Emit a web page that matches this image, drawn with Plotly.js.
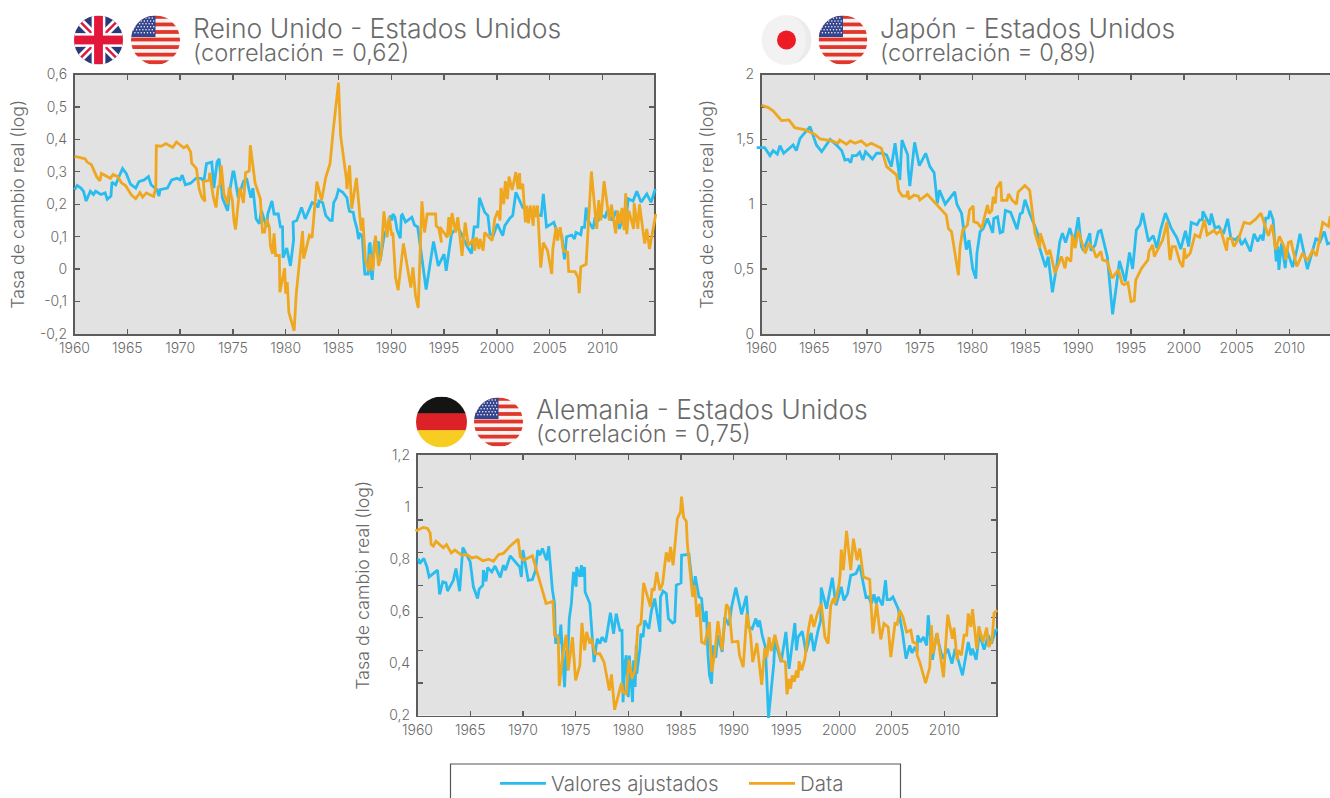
<!DOCTYPE html>
<html><head><meta charset="utf-8">
<script src="https://cdn.plot.ly/plotly-3.0.1.min.js"></script>
<style>html,body{margin:0;padding:0;background:#fff;overflow:hidden}#chart{width:1330px;height:798px}</style>
</head><body><div id="chart"></div>
<script>
// [year, value]
const ukFitted=[[1960,.245],[1960.25,.258],[1960.6,.25],[1960.85,.24],[1961.1,.21],[1961.5,.24],[1961.8,.23],[1962,.24],[1962.5,.23],[1962.9,.235],[1963.1,.215],[1963.45,.225],[1963.55,.268],[1963.9,.26],[1964.15,.28],[1964.55,.31],[1964.9,.295],[1965.3,.262],[1965.8,.25],[1966.1,.27],[1966.6,.275],[1967,.285],[1967.25,.26],[1967.8,.245],[1968,.225],[1968.1,.245],[1968.8,.25],[1969.2,.275],[1969.7,.28],[1970,.275],[1970.2,.29],[1970.5,.26],[1971,.265],[1971.5,.28],[1972,.28],[1972.25,.27],[1972.5,.325],[1973,.33],[1973.2,.25],[1973.5,.33],[1973.7,.34],[1974,.22],[1974.5,.18],[1974.7,.24],[1975,.3],[1975.1,.3],[1975.5,.22],[1976,.27],[1976.3,.28],[1976.7,.22],[1976.9,.25],[1977.2,.155],[1977.5,.14],[1977.7,.18],[1978.2,.13],[1978.3,.17],[1978.7,.21],[1978.9,.17],[1979.3,.17],[1979.5,.13],[1979.7,.13],[1979.75,.035],[1980.1,.065],[1980.45,.01],[1980.75,.09],[1980.7,.145],[1981.05,.15],[1981.5,.19],[1981.85,.155],[1982.5,.205],[1982.9,.2],[1983.07,.19],[1983.15,.21],[1983.5,.205],[1983.8,.165],[1984.2,.15],[1984.4,.15],[1984.55,.205],[1984.8,.22],[1985,.245],[1985.4,.237],[1985.8,.22],[1985.95,.19],[1986.05,.178],[1986.4,.175],[1986.5,.155],[1986.75,.125],[1986.9,.093],[1987.05,.108],[1987.25,.103],[1987.4,.026],[1987.5,-.015],[1987.8,-.015],[1987.9,.072],[1988,.082],[1988.1,-.015],[1988.2,-.033],[1988.35,.067],[1988.45,.085],[1988.8,.082],[1988.95,.026],[1989.35,.108],[1989.6,.124],[1989.9,.165],[1990.05,.15],[1990.15,.17],[1990.35,.16],[1990.55,.12],[1990.85,.095],[1990.95,.165],[1991.05,.168],[1991.35,.145],[1991.95,.16],[1992.2,.136],[1992.5,.13],[1993.3,-.063],[1994,.085],[1994.45,.01],[1995,.046],[1995.2,-.005],[1995.7,.108],[1995.85,.115],[1996.3,.129],[1996.65,.108],[1997.2,.069],[1997.6,.048],[1997.75,.1],[1997.85,.13],[1998.2,.13],[1998.35,.22],[1998.85,.175],[1999.15,.165],[1999.35,.108],[1999.65,.103],[2000.05,.139],[2000.55,.103],[2000.75,.134],[2001.25,.158],[2001.5,.165],[2001.8,.237],[2002.45,.19],[2002.8,.185],[2003.45,.17],[2004.2,.165],[2004.4,.232],[2004.7,.13],[2005.4,.144],[2005.65,.119],[2006.15,.103],[2006.4,.03],[2006.6,.1],[2007.1,.105],[2007.35,.093],[2007.5,.113],[2007.95,.106],[2008.05,.129],[2008.3,.129],[2008.45,.19],[2008.65,.15],[2009.1,.124],[2009.3,.16],[2009.6,.15],[2009.95,.165],[2010.25,.16],[2010.45,.18],[2010.9,.15],[2011.3,.18],[2011.6,.124],[2011.85,.15],[2012.15,.139],[2012.45,.217],[2012.9,.21],[2013.25,.24],[2013.65,.206],[2014.2,.232],[2014.6,.206],[2015,.247]];
const ukData=[[1960,.348],[1961,.34],[1961.2,.33],[1961.6,.322],[1962.1,.285],[1962.4,.272],[1962.55,.295],[1963,.287],[1963.4,.28],[1963.65,.292],[1964.1,.285],[1964.45,.266],[1964.85,.257],[1965.4,.228],[1965.8,.217],[1966.2,.236],[1966.45,.222],[1966.8,.235],[1967.15,.23],[1967.5,.224],[1967.7,.253],[1967.75,.38],[1968.25,.379],[1968.65,.387],[1969.3,.375],[1969.65,.392],[1970.35,.374],[1970.65,.381],[1971,.361],[1971.1,.327],[1971.55,.31],[1971.8,.248],[1972.05,.222],[1972.35,.209],[1972.2,.27],[1972.75,.274],[1972.8,.297],[1973.15,.222],[1973.4,.19],[1973.6,.253],[1973.75,.258],[1973.9,.32],[1974.15,.233],[1974.5,.2],[1974.65,.253],[1974.95,.212],[1975.1,.15],[1975.25,.122],[1975.65,.251],[1976,.204],[1976.2,.297],[1976.55,.303],[1976.65,.382],[1976.9,.31],[1977.1,.266],[1977.6,.217],[1977.8,.114],[1978,.114],[1978.2,.155],[1978.45,.13],[1978.55,.073],[1978.75,.047],[1978.9,.11],[1979.05,.042],[1979.4,.042],[1979.45,-.071],[1979.9,.003],[1980,-.076],[1980.15,-.04],[1980.3,-.133],[1980.8,-.19],[1981,-.076],[1981.6,.117],[1981.7,.032],[1982.25,.104],[1982.5,.097],[1982.95,.27],[1983.4,.212],[1983.8,.284],[1984.2,.325],[1984.5,.428],[1985,.575],[1985.2,.412],[1985.75,.278],[1985.8,.247],[1986.05,.32],[1986.25,.186],[1986.7,.281],[1987,.165],[1987.15,.119],[1987.3,.158],[1987.55,.026],[1987.9,-.005],[1988,.046],[1988.25,-.005],[1988.5,.103],[1988.8,.01],[1989.05,.046],[1989.3,.178],[1989.6,.098],[1989.8,.16],[1990.05,.103],[1990.15,.113],[1990.4,-.026],[1990.65,-.065],[1991.15,.079],[1991.85,-.057],[1992.05,.005],[1992.3,-.082],[1992.55,-.12],[1992.9,.209],[1993.15,.113],[1993.4,.17],[1994.2,.17],[1994.25,.134],[1994.5,.125],[1994.75,.082],[1994.6,.13],[1995.3,.098],[1995.45,.16],[1995.6,.103],[1995.75,.173],[1996.1,.113],[1996.3,.16],[1996.7,.041],[1997,.144],[1997.3,.072],[1997.75,.093],[1997.9,.057],[1998.05,.098],[1998.3,.062],[1998.4,.093],[1998.7,.057],[1998.85,.113],[1999.55,.088],[1999.8,.155],[2000.1,.18],[2000.3,.15],[2000.4,.25],[2000.65,.2],[2000.8,.271],[2001,.216],[2001.15,.285],[2001.45,.244],[2001.8,.299],[2002,.247],[2002.15,.296],[2002.2,.247],[2002.45,.263],[2002.7,.144],[2002.8,.196],[2003,.141],[2003.15,.196],[2003.45,.134],[2003.5,.196],[2003.7,.16],[2003.85,.196],[2004.15,.005],[2004.4,.082],[2004.8,.057],[2005.2,-.015],[2005.3,.062],[2005.6,.129],[2005.75,.088],[2006,.129],[2006.3,.057],[2006.7,.052],[2006.8,-.007],[2007.4,-.008],[2007.7,-.026],[2007.8,-.074],[2007.95,.007],[2008.45,.015],[2008.95,.301],[2009.45,.124],[2009.65,.213],[2009.85,.15],[2010.15,.271],[2010.65,.15],[2010.85,.199],[2011.25,.11],[2011.45,.18],[2011.65,.139],[2011.85,.189],[2012.05,.12],[2012.2,.234],[2012.3,.108],[2012.5,.18],[2012.95,.124],[2013,.203],[2013.35,.124],[2013.5,.2],[2014,.079],[2014.2,.124],[2014.45,.062],[2015.05,.17]];
const jpFitted=[[1959.55,1.436],[1960.3,1.436],[1960.8,1.375],[1961.1,1.413],[1961.5,1.387],[1961.75,1.452],[1962.1,1.393],[1963,1.457],[1963.3,1.413],[1963.65,1.508],[1964.6,1.598],[1965.2,1.457],[1965.7,1.405],[1966.5,1.5],[1967.1,1.457],[1967.6,1.413],[1967.9,1.341],[1968.2,1.346],[1968.45,1.32],[1968.6,1.375],[1969,1.375],[1969.3,1.4],[1969.6,1.341],[1969.85,1.405],[1970.5,1.349],[1970.9,1.393],[1971.5,1.393],[1971.85,1.38],[1972.3,1.29],[1972.65,1.47],[1973.1,1.187],[1973.3,1.495],[1973.85,1.38],[1973.9,1.264],[1974.05,1.14],[1974.5,1.477],[1974.95,1.297],[1975.55,1.393],[1975.95,1.29],[1976.35,1.243],[1976.65,1.006],[1976.85,1.109],[1977.4,1.001],[1978.3,1.096],[1978.5,1.001],[1978.95,.929],[1979.4,.651],[1979.65,.723],[1980,.504],[1980.3,.427],[1980.4,.62],[1980.7,.788],[1981,.813],[1981.4,.89],[1981.9,.78],[1982,.89],[1982.35,.903],[1982.6,.78],[1982.85,.788],[1983.1,.952],[1983.6,.937],[1984.2,.808],[1984.5,.927],[1984.7,.934],[1984.95,1.035],[1985.4,.927],[1985.9,.829],[1986.2,.764],[1986.35,.662],[1986.6,.597],[1986.9,.515],[1987.15,.597],[1987.55,.322],[1987.95,.52],[1988.25,.713],[1988.5,.777],[1988.8,.705],[1989.2,.816],[1989.6,.7],[1990,.901],[1990.3,.674],[1990.5,.643],[1991.1,.777],[1991.2,.643],[1991.6,.687],[1991.9,.79],[1992.15,.798],[1992.75,.597],[1993.25,.152],[1993.6,.366],[1993.9,.564],[1994.45,.404],[1994.85,.628],[1995.15,.502],[1995.5,.803],[1995.85,.842],[1996.1,.932],[1996.65,.713],[1997.1,.759],[1997.45,.662],[1997.8,.803],[1998.25,.932],[1998.8,.816],[1999.35,.739],[1999.7,.654],[2000.15,.795],[2000.45,.674],[2000.7,.86],[2001.25,.842],[2001.5,.88],[2001.75,.88],[2001.8,.945],[2002.45,.842],[2002.6,.927],[2002.95,.816],[2003.3,.829],[2003.75,.772],[2004.15,.888],[2004.45,.739],[2004.9,.726],[2005.2,.752],[2005.45,.687],[2005.8,.726],[2006.3,.636],[2006.65,.772],[2007,.713],[2007.3,.764],[2007.5,.72],[2007.75,.893],[2008,.893],[2008.15,.95],[2008.45,.88],[2008.75,.559],[2008.9,.675],[2009,.494],[2009.25,.7],[2009.6,.507],[2009.75,.649],[2010.3,.515],[2010.7,.649],[2011,.772],[2011.7,.499],[2012.5,.734],[2012.65,.73],[2012.9,.713],[2013.3,.79],[2013.6,.695],[2013.95,.705],[2014.3,.73]];
const jpData=[[1960,1.763],[1960.65,1.745],[1961.1,1.72],[1961.9,1.645],[1962.6,1.65],[1963.15,1.59],[1964.15,1.573],[1965.05,1.539],[1965.55,1.503],[1966.65,1.488],[1967.25,1.47],[1967.4,1.495],[1968.05,1.462],[1968.4,1.488],[1968.85,1.47],[1969.45,1.488],[1969.95,1.452],[1970.4,1.47],[1971.35,1.431],[1971.85,1.29],[1972.8,1.225],[1973,1.104],[1973.35,1.063],[1973.75,1.063],[1973.85,1.104],[1973.95,1.04],[1974.45,1.071],[1974.85,1.063],[1975,1.032],[1975.7,1.076],[1977.5,.916],[1977.7,.813],[1978,.788],[1978.4,.569],[1978.65,.453],[1978.8,.672],[1979.05,.8],[1979.5,.839],[1979.7,.955],[1980.05,.986],[1980.1,.865],[1980.45,.857],[1980.85,.813],[1981.4,.994],[1981.55,.929],[1981.8,.95],[1981.95,1.058],[1982.15,1.006],[1982.25,1.122],[1982.65,1.174],[1982.75,1.03],[1983.25,1.03],[1983.4,1.079],[1983.75,1.03],[1984.15,1.001],[1984.3,1.094],[1984.95,1.145],[1985.4,1.107],[1985.9,.777],[1986.35,.662],[1986.4,.777],[1987.05,.61],[1987.3,.649],[1987.8,.468],[1988.4,.597],[1988.75,.507],[1988.9,.592],[1989.3,.559],[1989.45,.764],[1989.7,.662],[1990,.795],[1990.65,.623],[1991,.7],[1991.45,.649],[1991.7,.589],[1992.15,.636],[1992.3,.571],[1992.75,.559],[1993.2,.43],[1993.8,.494],[1994.15,.391],[1994.35,.38],[1994.7,.396],[1995,.25],[1995.3,.257],[1995.45,.417],[1996,.507],[1996.6,.571],[1996.7,.636],[1997.05,.687],[1997.2,.597],[1998,.726],[1998.4,.862],[1998.65,.597],[1998.7,.571],[1998.9,.674],[1999.2,.674],[1999.6,.559],[1999.9,.515],[2000.05,.662],[2000.15,.584],[2000.6,.623],[2001.05,.764],[2001.5,.746],[2001.95,.88],[2002.2,.764],[2002.85,.798],[2003.1,.772],[2003.5,.798],[2004.05,.643],[2004.15,.734],[2004.5,.739],[2004.75,.674],[2005.2,.739],[2005.7,.86],[2006.25,.849],[2006.8,.885],[2007.3,.932],[2008,.757],[2008.35,.842],[2008.7,.649],[2009.05,.752],[2009.5,.674],[2009.65,.571],[2009.9,.705],[2010.15,.713],[2010.7,.52],[2011.25,.623],[2011.7,.564],[2012.2,.643],[2012.55,.602],[2013.15,.86],[2013.7,.829],[2013.85,.906],[2014.25,.85]];
const deFitted=[[1960.1,.803],[1960.2,.783],[1960.6,.803],[1960.9,.77],[1961.1,.732],[1961.9,.758],[1962.1,.665],[1962.4,.713],[1962.7,.709],[1962.85,.678],[1963.4,.719],[1963.65,.764],[1964,.677],[1964.3,.845],[1965,.79],[1965.3,.694],[1965.7,.649],[1965.85,.685],[1966.2,.7],[1966.25,.758],[1966.5,.715],[1966.65,.768],[1967.05,.751],[1967.35,.774],[1967.85,.73],[1968.15,.777],[1968.35,.758],[1968.8,.813],[1969.7,.77],[1969.85,.732],[1970,.835],[1970.25,.77],[1970.5,.719],[1970.9,.722],[1971.2,.758],[1971.4,.835],[1971.6,.815],[1971.85,.841],[1972.25,.796],[1972.45,.85],[1972.8,.681],[1973,.63],[1973.1,.476],[1973.3,.51],[1973.45,.476],[1973.6,.549],[1973.85,.335],[1973.95,.309],[1974.1,.45],[1974.2,.373],[1974.4,.572],[1974.6,.63],[1974.8,.751],[1975.05,.694],[1975.1,.77],[1975.4,.732],[1975.55,.777],[1975.7,.732],[1975.85,.77],[1975.9,.674],[1976.35,.63],[1976.75,.405],[1977.05,.495],[1977.3,.476],[1977.5,.501],[1977.85,.482],[1978.3,.595],[1978.6,.514],[1978.85,.591],[1979.2,.527],[1979.4,.527],[1979.5,.251],[1979.65,.39],[1979.8,.431],[1980,.27],[1980.1,.43],[1980.4,.251],[1980.5,.412],[1980.65,.31],[1980.75,.469],[1980.8,.36],[1981.1,.456],[1981.2,.514],[1981.4,.501],[1981.55,.565],[1981.95,.533],[1982.2,.604],[1982.5,.649],[1983,.521],[1983.05,.655],[1983.3,.677],[1983.6,.668],[1983.8,.572],[1984.2,.555],[1984.4,.559],[1984.55,.7],[1985,.709],[1985.05,.815],[1985.75,.819],[1986.1,.681],[1986.2,.655],[1986.35,.735],[1986.7,.655],[1986.95,.649],[1987.15,.559],[1987.4,.601],[1987.55,.437],[1987.7,.354],[1987.9,.322],[1988.05,.469],[1988.3,.422],[1988.5,.508],[1988.9,.444],[1989.15,.578],[1989.55,.546],[1989.8,.617],[1990.2,.691],[1990.75,.588],[1991.2,.659],[1991.4,.54],[1991.75,.533],[1992.1,.572],[1992.3,.54],[1992.45,.565],[1992.7,.508],[1993,.463],[1993.3,.191],[1993.8,.399],[1993.9,.488],[1994.5,.405],[1994.95,.521],[1995.25,.379],[1995.8,.555],[1995.95,.45],[1996.1,.501],[1996.5,.523],[1996.85,.444],[1997.35,.517],[1997.6,.447],[1998,.527],[1998.25,.565],[1998.3,.691],[1998.8,.61],[1999.35,.729],[1999.7,.623],[2000.2,.694],[2000.45,.642],[2000.8,.668],[2001.1,.738],[2001.6,.745],[2001.95,.777],[2002.55,.653],[2002.8,.655],[2003.05,.629],[2003.3,.665],[2003.5,.63],[2003.7,.655],[2004.1,.623],[2004.4,.719],[2004.55,.645],[2004.85,.645],[2005.1,.655],[2005.6,.61],[2006,.521],[2006.35,.418],[2006.7,.469],[2006.9,.44],[2007.2,.463],[2007.4,.444],[2007.45,.508],[2007.7,.482],[2008,.501],[2008.3,.469],[2008.45,.585],[2008.85,.414],[2009.25,.514],[2009.8,.418],[2010.3,.456],[2010.7,.399],[2011,.456],[2011.7,.354],[2012.25,.482],[2012.5,.431],[2012.65,.456],[2013,.414],[2013.3,.514],[2013.75,.453],[2014.15,.508],[2014.45,.476],[2014.85,.527],[2015.05,.53]];
const deData=[[1959.8,.908],[1960.55,.922],[1960.95,.918],[1961.2,.901],[1961.3,.856],[1961.5,.85],[1961.75,.869],[1962.45,.844],[1962.75,.856],[1963.2,.824],[1963.55,.835],[1964.2,.815],[1964.65,.818],[1965.15,.805],[1965.6,.809],[1966.2,.794],[1966.75,.8],[1967.2,.792],[1967.7,.818],[1968.15,.822],[1968.8,.851],[1969.55,.877],[1969.75,.809],[1970.05,.796],[1970.9,.813],[1971.2,.77],[1971.6,.706],[1972.2,.63],[1972.85,.638],[1973,.508],[1973.35,.501],[1973.45,.313],[1973.8,.437],[1974.1,.51],[1974.3,.373],[1974.7,.501],[1975,.335],[1975.4,.392],[1975.6,.556],[1975.85,.45],[1976.05,.521],[1976.35,.476],[1976.5,.495],[1976.85,.437],[1977.3,.437],[1977.7,.405],[1978.2,.296],[1978.4,.358],[1978.7,.222],[1979.35,.324],[1979.5,.29],[1979.8,.283],[1980.05,.414],[1980.35,.341],[1980.65,.376],[1980.9,.542],[1981.2,.553],[1981.45,.709],[1982.1,.617],[1982.25,.687],[1982.45,.68],[1982.7,.751],[1983,.681],[1983.25,.706],[1983.6,.826],[1983.85,.79],[1984,.847],[1984.25,.777],[1984.65,.956],[1984.95,.982],[1985.05,1.04],[1985.25,.96],[1985.5,.946],[1985.6,.86],[1986.1,.655],[1986.3,.7],[1986.5,.578],[1986.75,.629],[1986.95,.482],[1987.25,.476],[1987.7,.559],[1987.9,.367],[1988.2,.437],[1988.5,.562],[1988.9,.45],[1989.3,.627],[1989.55,.61],[1989.85,.482],[1990.4,.485],[1990.55,.431],[1990.9,.386],[1991.25,.591],[1991.6,.508],[1991.8,.405],[1992.2,.478],[1992.65,.318],[1992.95,.46],[1993.15,.424],[1993.35,.501],[1993.55,.447],[1993.9,.51],[1994.5,.412],[1994.9,.405],[1995.05,.281],[1995.25,.34],[1995.4,.303],[1995.55,.354],[1995.75,.33],[1995.95,.373],[1996.1,.345],[1996.2,.408],[1996.45,.373],[1996.75,.418],[1997.1,.533],[1997.35,.588],[1997.6,.54],[1997.95,.594],[1998.3,.629],[1998.65,.501],[1998.95,.476],[1999.2,.62],[1999.45,.649],[1999.6,.63],[2000,.706],[2000.1,.745],[2000.2,.837],[2000.4,.758],[2000.7,.909],[2001.1,.758],[2001.35,.879],[2001.7,.796],[2001.95,.841],[2002.3,.732],[2002.9,.722],[2003,.642],[2003.2,.514],[2003.55,.629],[2003.95,.492],[2004.25,.553],[2004.65,.54],[2004.9,.424],[2005.3,.553],[2005.5,.55],[2005.75,.604],[2006.05,.578],[2006.4,.52],[2006.8,.527],[2007,.482],[2007.35,.476],[2007.4,.431],[2007.65,.405],[2008.2,.324],[2008.6,.386],[2008.75,.546],[2008.9,.437],[2009.3,.517],[2009.9,.347],[2010.3,.587],[2010.75,.495],[2010.9,.537],[2011.2,.412],[2011.3,.45],[2011.6,.431],[2011.85,.508],[2012.1,.508],[2012.25,.591],[2012.5,.54],[2012.65,.608],[2013.05,.456],[2013.25,.542],[2013.65,.482],[2014,.537],[2014.2,.463],[2014.5,.488],[2014.7,.594],[2015,.604]];

const yearTicks=[1960,1965,1970,1975,1980,1985,1990,1995,2000,2005,2010];
const ukTickVals=[-.2,-.1,0,.1,.2,.3,.4,.5,.6];
const ukTickText=['-0,2','-0,1','0','0,1','0,2','0,3','0,4','0,5','0,6'];
const jpTickVals=[0,.25,.5,.75,1,1.25,1.5,1.75,2];
const jpTickText=['0','','0,5','','1','','1,5','','2'];
const deLabelVals=[.2,.4,.6,.8,1,1.2];
const deLabelText=['0,2','0,4','0,6','0,8','1','1,2'];
const deTickMarks=[.325,.45,.575,.7,.825,.95,1.075];
const seriesNames=['Valores ajustados','Data'];

const W=1330,H=798;
const BLUE='#29bcee',ORANGE='#eea71f',INK='#6a6a6a',FRAME='#5c5c5c',FONT='Inter, "Open Sans", sans-serif';
const px=x=>x/W, py=y=>1-y/H;

// Panels: frame box in page pixels and axis ranges
const panels=[
 {xb:[74.5,654],yb:[74.5,334],xr:[1960,2014.88],yr:[-.2,.6]},
 {xb:[761.5,1330],yb:[74.5,334],xr:[1960,2013.84],yr:[0,2]},
 {xb:[417.5,996],yb:[455,715.5],xr:[1960,2014.88],yr:[.2,1.2]}];

// The reference's lines run a few pixels past the frame; plotly clips lines to the
// subplot, so they go on hidden axes with the same scale and a slightly larger box.
const PAD=12;
function hiddenX(p){const s=(p.xr[1]-p.xr[0])/(p.xb[1]-p.xb[0]);const r=Math.min(PAD,W-p.xb[1]);
  return {visible:false,domain:[px(p.xb[0]-PAD),px(p.xb[1]+r)],range:[p.xr[0]-PAD*s,p.xr[1]+r*s]};}
function hiddenY(p){const s=(p.yr[1]-p.yr[0])/(p.yb[1]-p.yb[0]);
  return {visible:false,domain:[py(p.yb[1]+PAD),py(p.yb[0]-PAD)],range:[p.yr[0]-PAD*s,p.yr[1]+PAD*s]};}

const traces=[];
// A point-only trace with no drawn mark keeps each framed subplot alive.
panels.forEach((p,i)=>{const n=i?i+1:'';traces.push({type:'scatter',mode:'lines',showlegend:false,hoverinfo:'skip',x:[p.xr[0]],y:[p.yr[0]],xaxis:'x'+n,yaxis:'y'+n,line:{width:0}});});
function add(series,name,color,n,show){
  traces.push({type:'scatter',mode:'lines',name,showlegend:show,
    x:series.map(p=>p[0]),y:series.map(p=>p[1]),xaxis:'x'+n,yaxis:'y'+n,
    line:{color,width:2.8,shape:'linear'},hoverinfo:'x+y'});
}
add(ukFitted,seriesNames[0],BLUE,4,true);add(ukData,seriesNames[1],ORANGE,4,true);
add(jpFitted,seriesNames[0],BLUE,5,false);add(jpData,seriesNames[1],ORANGE,5,false);
add(deFitted,seriesNames[0],BLUE,6,false);add(deData,seriesNames[1],ORANGE,6,false);

function xAxis(p,anchor){return {domain:[px(p.xb[0]),px(p.xb[1])],range:p.xr,anchor,tickmode:'array',tickvals:yearTicks,ticktext:yearTicks.map(String),
  ticks:'inside',ticklen:5,tickwidth:1.3,tickcolor:FRAME,showline:true,linecolor:FRAME,linewidth:1.6,mirror:'ticks',showgrid:false,zeroline:false,
  tickfont:{family:FONT,size:14,color:INK,weight:300},ticklabelstandoff:1};}
function yAxis(p,anchor,standoff,extra){return Object.assign({domain:[py(p.yb[1]),py(p.yb[0])],range:p.yr,anchor,tickmode:'array',
  ticks:'inside',ticklen:5,tickwidth:1.3,tickcolor:FRAME,showline:true,linecolor:FRAME,linewidth:1.6,mirror:'ticks',showgrid:false,zeroline:false,
  tickfont:{family:FONT,size:14,color:INK,weight:300},ticklabelstandoff:3,
  title:{text:'Tasa de cambio real (log)',font:{family:FONT,size:17.8,color:INK,weight:300},standoff}},extra);}

const flagClip=(body)=>'data:image/svg+xml;charset=utf-8,'+encodeURIComponent(
 '<svg xmlns="http://www.w3.org/2000/svg" viewBox="0 0 100 100"><defs><clipPath id="c"><circle cx="50" cy="50" r="50"/></clipPath></defs><g clip-path="url(#c)">'+body+'</g></svg>');
let usStars='';for(let r=0;r<6;r++)for(let c=0;c<7;c++)usStars+='<circle cx="'+(5+c*6.4+(r%2?3:0))+'" cy="'+(5+r*6)+'" r="1.5" fill="#fff"/>';
let usStripes='';for(let i=0;i<7;i++)usStripes+='<rect x="0" y="'+(i*15.4-1)+'" width="100" height="7.7" fill="#e0362c"/>';
const usFlag=flagClip('<rect width="100" height="100" fill="#f6f3f0"/>'+usStripes+'<rect y="93" width="100" height="7" fill="#e0362c"/><rect width="50" height="44" fill="#35448f"/>'+usStars);
const ukFlag=flagClip('<rect width="100" height="100" fill="#2a3a78"/><path d="M0 0L100 100M100 0L0 100" stroke="#fff" stroke-width="16"/><path d="M0 0L100 100M100 0L0 100" stroke="#e3173a" stroke-width="5"/><rect x="36" width="28" height="100" fill="#fff"/><rect y="36" width="100" height="28" fill="#fff"/><rect x="41" width="18" height="100" fill="#e3173a"/><rect y="41" width="100" height="18" fill="#e3173a"/>');
const jpFlag=flagClip('<rect width="100" height="100" fill="#f2f2f2"/><path d="M62 0A60 60 0 0 1 62 100L100 100L100 0Z" fill="#ebebeb"/><circle cx="50" cy="50" r="19" fill="#ed1c24"/>');
const deFlag=flagClip('<rect width="100" height="34" fill="#141414"/><rect y="33" width="100" height="34" fill="#dc2227"/><rect y="66" width="100" height="34" fill="#f8cd22"/>');
const img=(src,cx,cy,r)=>({source:src,xref:'paper',yref:'paper',x:px(cx-r),y:py(cy-r),sizex:2*r/W,sizey:2*r/H,xanchor:'left',yanchor:'top',sizing:'stretch',layer:'above'});

// Two-line panel title in one text: the base size sets the tight line spacing of the reference.
const titleAnn=(a,b,x,y)=>({text:'<span style="font-size:26.5px">'+a+'</span><br><span style="font-size:23.6px">'+b+'</span>',xref:'paper',yref:'paper',x:px(x),y:py(y),xanchor:'left',yanchor:'middle',align:'left',showarrow:false,borderpad:0,font:{family:FONT,size:18,color:INK,weight:300}});
const panelBg=p=>({type:'rect',layer:'below',xref:'paper',yref:'paper',x0:px(p.xb[0]),x1:px(p.xb[1]),y0:py(p.yb[1]),y1:py(p.yb[0]),line:{width:0},fillcolor:'#e2e2e2'});

const layout={width:W,height:H,margin:{l:0,r:0,t:0,b:0,autoexpand:false},paper_bgcolor:'#fff',plot_bgcolor:'rgba(0,0,0,0)',
  xaxis:xAxis(panels[0],'y'),
  yaxis:yAxis(panels[0],'x',10,{tickvals:ukTickVals,ticktext:ukTickText}),
  xaxis2:xAxis(panels[1],'y2'),
  yaxis2:yAxis(panels[1],'x2',15,{tickvals:jpTickVals,ticktext:jpTickText,mirror:false}),
  xaxis3:xAxis(panels[2],'y3'),
  yaxis3:yAxis(panels[2],'x3',15,{tickvals:deLabelVals,ticktext:deLabelText,ticks:'',minor:{tickmode:'array',tickvals:deTickMarks,ticks:'inside',ticklen:5,tickwidth:1.3,tickcolor:FRAME}}),
  xaxis4:Object.assign(hiddenX(panels[0]),{anchor:'y4'}),yaxis4:Object.assign(hiddenY(panels[0]),{anchor:'x4'}),
  xaxis5:Object.assign(hiddenX(panels[1]),{anchor:'y5'}),yaxis5:Object.assign(hiddenY(panels[1]),{anchor:'x5'}),
  xaxis6:Object.assign(hiddenX(panels[2]),{anchor:'y6'}),yaxis6:Object.assign(hiddenY(panels[2]),{anchor:'x6'}),
  annotations:[
    titleAnn('Reino Unido - Estados Unidos','(correlación = 0,62)',192,39.5),
    titleAnn('Japón - Estados Unidos','(correlación = 0,89)',879,39.5),
    titleAnn('Alemania - Estados Unidos','(correlación = 0,75)',535,420)],
  images:[img(ukFlag,98.5,40,24.5),img(usFlag,155.5,40,24.5),img(jpFlag,786.5,40,25),img(usFlag,843,40,24.5),img(deFlag,441.5,422,25.5),img(usFlag,498.5,422,24.5)],
  shapes:[panelBg(panels[0]),panelBg(panels[1]),panelBg(panels[2]),
    {type:'rect',xref:'paper',yref:'paper',x0:px(450.5),x1:px(900.5),y0:py(764),y1:py(799),line:{color:'#555',width:1.2},fillcolor:'rgba(0,0,0,0)'}],
  legend:{orientation:'h',x:px(495),y:py(783.5),xanchor:'left',yanchor:'middle',itemwidth:46,entrywidth:188,entrywidthmode:'pixels',traceorder:'normal',bgcolor:'rgba(0,0,0,0)',font:{family:FONT,size:20.5,color:INK,weight:300}},
  hovermode:false};
Plotly.newPlot('chart',traces,layout,{staticPlot:true,displayModeBar:false});
</script></body></html>
